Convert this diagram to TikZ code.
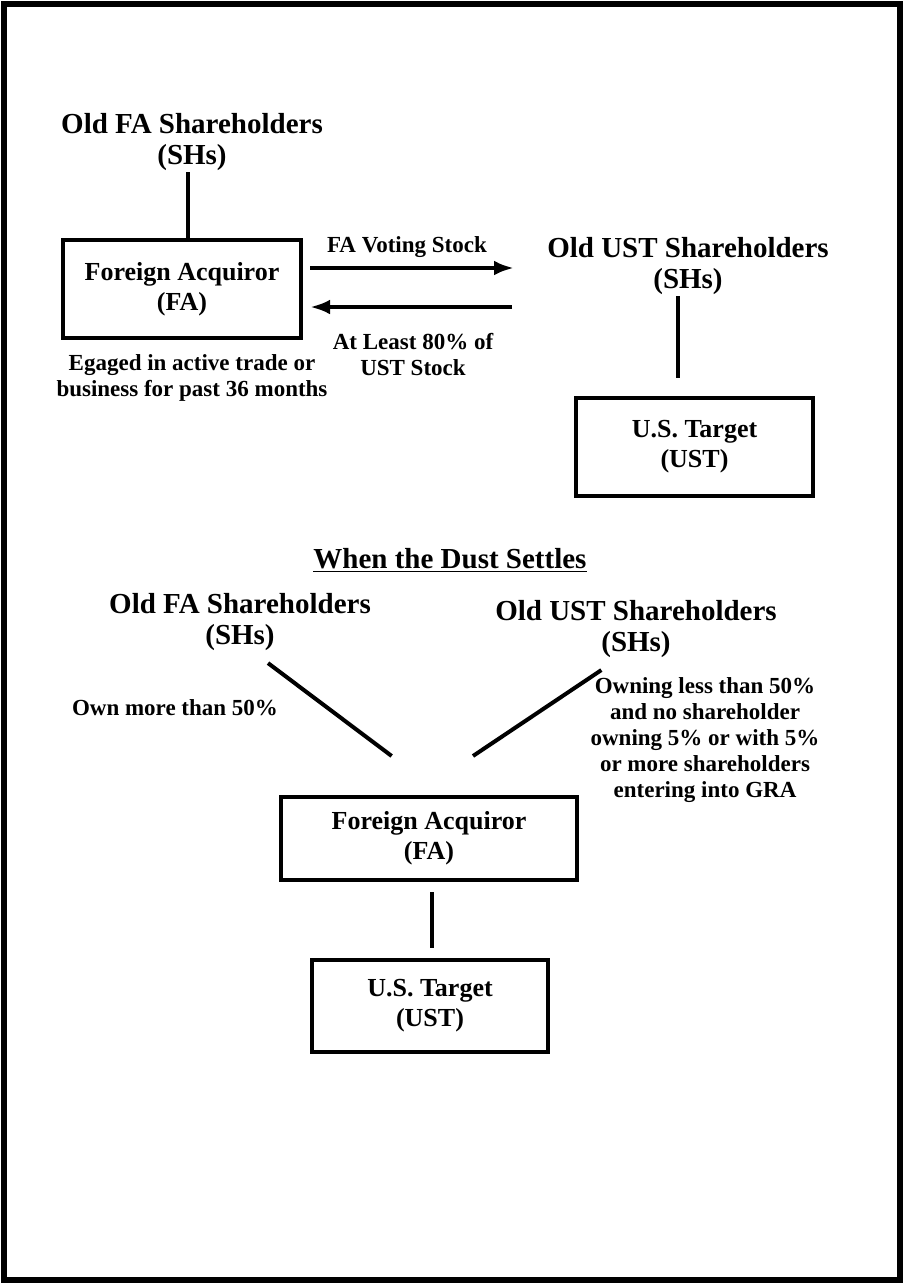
\documentclass[tikz,border=0pt]{standalone}
\usepackage{fontspec}
\setmainfont{Liberation Serif}
\usetikzlibrary{arrows.meta}
\begin{document}
\begin{tikzpicture}[x=0.75pt,y=-0.75pt,
  title/.style={font=\fontsize{21.75}{23.5}\selectfont\bfseries,align=center,inner sep=1pt},
  boxtext/.style={font=\fontsize{19.5}{22.5}\selectfont\bfseries,align=center},
  label/.style={font=\fontsize{17.25}{19.5}\selectfont\bfseries,align=center,inner sep=1pt},
  entity/.style={draw,line width=3pt,boxtext,inner sep=0pt},
  conn/.style={line width=3pt},
  flow/.style={line width=3pt,-{Latex[length=15pt,width=11pt]}}]
\useasboundingbox (0,0) rectangle (904,1284);
% outer frame
\draw[line width=4pt] (4,4) rectangle (900,1280);

% ---- before the exchange ----
\node[title] (t1) at (192,142) {Old FA Shareholders\\(SHs)};
\node[entity,minimum width=178.5pt,minimum height=73.5pt] (fa1) at (182,289) {Foreign Acquiror\\(FA)};
\node[label] (act) at (192,378) {Egaged in active trade or\\business for past 36 months};
\node[title] (t2) at (688,266) {Old UST Shareholders\\(SHs)};
\node[entity,minimum width=177.75pt,minimum height=73.5pt] (ust1) at (694.5,447) {U.S. Target\\(UST)};

\draw[conn] ([xshift=-3pt]t1.south) -- ([xshift=-3pt]t1.south |- fa1.north);
\draw[conn,shorten >=13.5pt] ([xshift=-7.5pt]t2.south) -- ([xshift=-7.5pt]t2.south |- ust1.north);

\coordinate (aEnd) at (514,268);
\coordinate (bStart) at (512,307);
\draw[flow] ([shift={(5.25pt,15.75pt)}]fa1.east) -- (aEnd);
\draw[flow] (bStart) -- ([shift={(5.25pt,-13.5pt)}]fa1.east);
\node[label] (lblA) at (407,247) {FA Voting Stock};
\node[label] (lblB) at (413,355) {At Least 80\% of\\UST Stock};

% ---- after the exchange ----
\node[title] (dust) at (450,560) {\underline{When the Dust Settles}};
\node[title] (t3) at (240,622) {Old FA Shareholders\\(SHs)};
\node[title] (t4) at (636,629) {Old UST Shareholders\\(SHs)};
\node[label] (own) at (175,708) {Own more than 50\%};
\node[label] (less) at (705,740) {Owning less than 50\%\\and no shareholder\\owning 5\% or with 5\%\\or more shareholders\\entering into GRA};
\node[entity,minimum width=222pt,minimum height=62.25pt] (fa2) at (429,838.5) {Foreign Acquiror\\(FA)};
\node[entity,minimum width=177pt,minimum height=69pt] (ust2) at (430,1006) {U.S. Target\\(UST)};

\draw[conn] ([shift={(-28pt,29.25pt)}]fa2.north) -- ([shift={(21pt,-8pt)}]t3.south);
\draw[conn] ([shift={(33pt,29.25pt)}]fa2.north) -- ([shift={(-26pt,-8pt)}]t4.south);
\draw[conn,shorten <=7.5pt,shorten >=7.5pt] ([xshift=2.25pt]fa2.south) -- ([xshift=2.25pt]fa2.south |- ust2.north);
\end{tikzpicture}
\end{document}
